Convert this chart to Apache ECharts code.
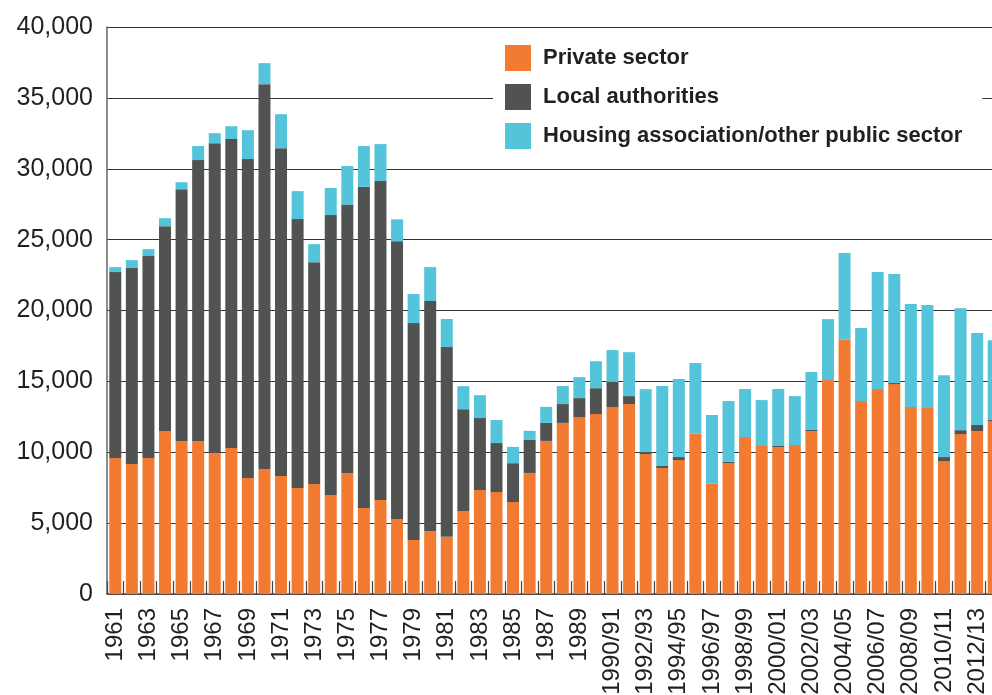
<!DOCTYPE html>
<html>
<head>
<meta charset="UTF-8">
<title>Housebuilding completions by tenure</title>
<script type="text/javascript" src="https://cdn.jsdelivr.net/npm/echarts@6/dist/echarts.min.js"></script>
<style>
  html, body { margin: 0; padding: 0; background: #fff; }
</style>
</head>
<body>
    <div id="main" style="width: 992px;height:695px;"></div>
    <script type="text/javascript">
    // years: calendar years to 1990, then financial years
    var years = ['1961', '1962', '1963', '1964', '1965', '1966', '1967', '1968', '1969', '1970',
        '1971', '1972', '1973', '1974', '1975', '1976', '1977', '1978', '1979', '1980',
        '1981', '1982', '1983', '1984', '1985', '1986', '1987', '1988', '1989', '1990',
        '1990/91', '1991/92', '1992/93', '1993/94', '1994/95', '1995/96', '1996/97', '1997/98',
        '1998/99', '1999/00', '2000/01', '2001/02', '2002/03', '2003/04', '2004/05', '2005/06',
        '2006/07', '2007/08', '2008/09', '2009/10', '2010/11', '2011/12', '2012/13', '2013/14'];

    var privateSector = [9590, 9170, 9590, 11500, 10790, 10790, 9940, 10300, 8180, 8820,
        8320, 7480, 7760, 6970, 8540, 6070, 6630, 5290, 3810, 4440,
        4030, 5850, 7330, 7190, 6490, 8540, 10800, 12070, 12480, 12690,
        13190, 13400, 9870, 8890, 9450, 11310, 7780, 9240,
        11070, 10440, 10370, 10510, 11500, 15090, 17940, 13610,
        14460, 14810, 13190, 13120, 9380, 11280, 11500, 12200];

    var localAuthorities = [13120, 13820, 14250, 14450, 17770, 19820, 21860, 21800, 22500, 27150,
        23130, 18970, 15650, 19760, 18930, 22650, 22500, 19600, 15300, 16230,
        13390, 7190, 5080, 3460, 2740, 2330, 1270, 1330, 1340, 1830,
        1770, 560, 140, 140, 210, 0, 0, 90,
        0, 0, 70, 0, 70, 0, 0, 0,
        0, 70, 0, 0, 280, 280, 420, 70];

    var housingAssoc = [350, 560, 490, 560, 490, 990, 710, 900, 2040, 1480,
        2400, 1970, 1270, 1910, 2720, 2880, 2610, 1540, 2050, 2390,
        1980, 1620, 1620, 1620, 1150, 640, 1130, 1270, 1480, 1900,
        2250, 3100, 4440, 5640, 5500, 4980, 4840, 4280,
        3390, 3240, 4020, 3450, 4090, 4300, 6110, 5150,
        8250, 7690, 7260, 7260, 5780, 8600, 6490, 5640];

    var seriesNames = ['Private sector', 'Local authorities', 'Housing association/other public sector'];
    var colors = ['#F37A31', '#515352', '#54C4DA'];

    var myChart = echarts.init(document.getElementById('main'));
    var option = {
        animation: false,
        color: colors,
        textStyle: { fontFamily: '"Liberation Sans", Arial, sans-serif', color: '#231f20' },
        legend: {
            orient: 'vertical',
            left: 493,
            top: 35,
            padding: [10, 20, 10, 12],
            backgroundColor: '#fff',
            itemWidth: 26,
            itemHeight: 26,
            itemGap: 13,
            icon: 'rect',
            textStyle: { fontSize: 22, fontWeight: 'bold', color: '#231f20', padding: [0, 0, 0, 7] },
            data: seriesNames
        },
        // the plot runs past the right and bottom edges, so the last bar and long labels get cut
        grid: {
            left: 107,
            width: 895,
            top: 27,
            height: 567,
            outerBoundsMode: 'none'
        },
        xAxis: {
            type: 'category',
            data: years,
            axisLine: { lineStyle: { color: '#555', width: 1.5 } },
            axisTick: { show: true, inside: true, length: 13, interval: 0, lineStyle: { color: '#444', width: 1.2 } },
            axisLabel: {
                rotate: 90,
                interval: 1,
                margin: 14,
                fontSize: 24,
                color: '#231f20'
            }
        },
        yAxis: {
            type: 'value',
            min: 0,
            max: 40000,
            interval: 5000,
            axisLine: { show: true, lineStyle: { color: '#666', width: 1.5 } },
            axisTick: { show: false },
            axisLabel: {
                fontSize: 25,
                margin: 14,
                color: '#231f20',
                formatter: function (v) {
                    return String(v).replace(/\B(?=(\d{3})+(?!\d))/g, ',');
                }
            },
            splitLine: { lineStyle: { color: '#333', width: 1.2 } }
        },
        series: [{
            name: seriesNames[0],
            type: 'bar',
            stack: 'total',
            barWidth: 12,
            data: privateSector
        }, {
            name: seriesNames[1],
            type: 'bar',
            stack: 'total',
            barWidth: 12,
            data: localAuthorities
        }, {
            name: seriesNames[2],
            type: 'bar',
            stack: 'total',
            barWidth: 12,
            data: housingAssoc
        }]
    };
    myChart.setOption(option);
    </script>
</body>
</html>
